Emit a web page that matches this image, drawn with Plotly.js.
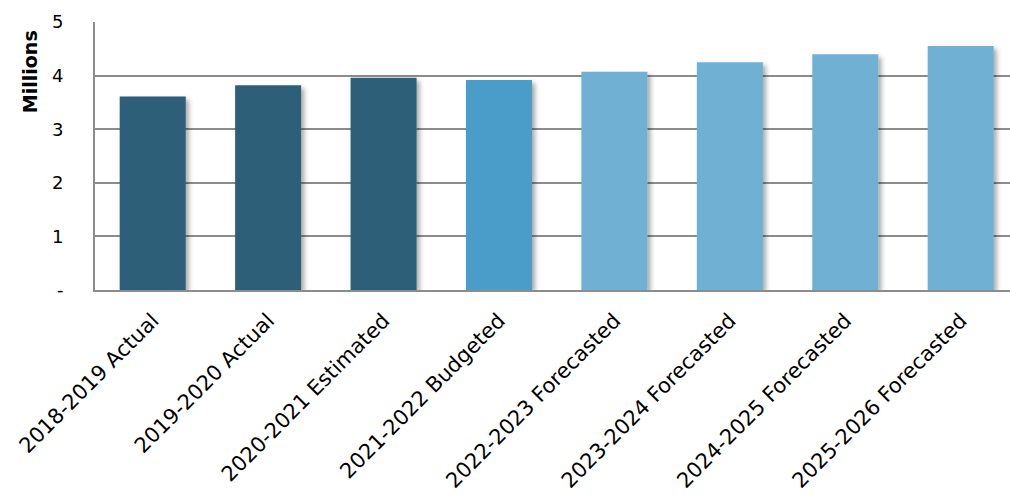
<!DOCTYPE html>
<html>
<head>
<meta charset="utf-8">
<script src="https://cdn.plot.ly/plotly-3.0.1.min.js"></script>
<style>
  html, body { margin: 0; padding: 0; background: #fff; }
  #chart { width: 1010px; height: 502px; }
  .barlayer .point path { filter: url(#barshadow); }
</style>
</head>
<body>
<svg width="0" height="0" style="position:absolute">
  <defs>
    <filter id="barshadow" x="-20%" y="-20%" width="140%" height="140%">
      <feGaussianBlur in="SourceAlpha" stdDeviation="2.5"/>
      <feOffset dx="3" dy="3" result="ob"/>
      <feComponentTransfer><feFuncA type="linear" slope="0.35"/></feComponentTransfer>
      <feMerge><feMergeNode/><feMergeNode in="SourceGraphic"/></feMerge>
    </filter>
  </defs>
</svg>
<div id="chart"></div>
<script>
const categories = [
  "2018-2019 Actual",
  "2019-2020 Actual",
  "2020-2021 Estimated",
  "2021-2022 Budgeted",
  "2022-2023 Forecasted",
  "2023-2024 Forecasted",
  "2024-2025 Forecasted",
  "2025-2026 Forecasted"
];
const values = [3.61, 3.82, 3.96, 3.92, 4.07, 4.25, 4.40, 4.55];
const barColors = ["#2E5F78", "#2E5F78", "#2E5F78", "#4B9DC9", "#70B0D3", "#70B0D3", "#70B0D3", "#70B0D3"];
const yTickVals = [0, 1, 2, 3, 4, 5];
const yTickText = ["-", "1", "2", "3", "4", "5"];
const yTitle = "Millions";

const FONT = "DejaVu Sans, sans-serif";

const trace = {
  type: "bar",
  x: categories,
  y: values,
  width: 0.572,
  marker: { color: barColors, line: { width: 0 } },
  hoverinfo: "x+y"
};

const layout = {
  width: 1010,
  height: 502,
  margin: { l: 95, r: 0, t: 22, b: 212 },
  paper_bgcolor: "#ffffff",
  plot_bgcolor: "#ffffff",
  showlegend: false,
  font: { family: FONT, color: "#000000", size: 16 },
  xaxis: {
    type: "category",
    range: [-0.5, 7.427],
    tickangle: -45,
    showgrid: false,
    showline: true,
    linecolor: "#8C8C8C",
    linewidth: 2,
    ticks: "",
    ticklabelstandoff: 8,
    tickfont: { family: FONT, size: 21, color: "#000" },
    zeroline: false,
    fixedrange: true
  },
  yaxis: {
    range: [0, 5],
    tickvals: yTickVals,
    ticktext: yTickText,
    showgrid: true,
    gridcolor: "#8C8C8C",
    gridwidth: 2,
    showline: true,
    linecolor: "#8C8C8C",
    linewidth: 2,
    zeroline: false,
    ticks: "",
    ticklabelstandoff: 26,
    tickfont: { family: FONT, size: 18, color: "#000" },
    fixedrange: true
  },
  annotations: [{
    text: "<b>" + yTitle + "</b>",
    xref: "paper", yref: "paper",
    x: -0.071, y: 0.813,
    xanchor: "center", yanchor: "middle",
    textangle: -90,
    showarrow: false,
    font: { family: FONT, size: 19, color: "#000" }
  }]
};

Plotly.newPlot("chart", [trace], layout, { displayModeBar: false, staticPlot: true });
</script>
</body>
</html>
